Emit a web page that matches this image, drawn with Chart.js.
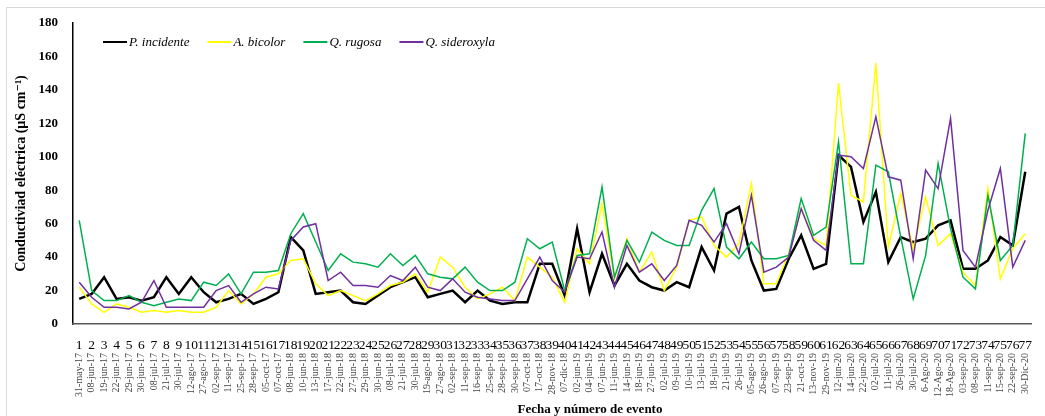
<!DOCTYPE html>
<html>

<head>
  <title>Conductividad eléctrica por evento</title>
  <script src="https://cdn.jsdelivr.net/npm/chart.js"></script>
  <style>
    html, body { margin: 0; padding: 0; background: #fff; }
  </style>
</head>

<body>
  <canvas id="myChart" width="1045" height="416"></canvas>
  <script>
    // número de evento y fecha
    var numeros = ['1', '2', '3', '4', '5', '6', '7', '8', '9', '10', '11', '12', '13', '14', '15', '16', '17', '18', '19', '20',
      '21', '22', '23', '24', '25', '26', '27', '28', '29', '30', '31', '32', '33', '34', '35', '36', '37', '38', '39', '40',
      '41', '42', '43', '44', '45', '46', '47', '48', '49', '50', '51', '52', '53', '54', '55', '56', '57', '58', '59', '60',
      '61', '62', '63', '64', '65', '66', '67', '68', '69', '70', '71', '72', '73', '74', '75', '76', '77'];
    var fechas = ['31-may-17', '08-jun-17', '19-jun-17', '22-jun-17', '29-jun-17', '30-jun-17', '08-jul-17', '21-jul-17', '30-jul-17', '12-ago-17',
      '27-ago-17', '02-sep-17', '11-sep-17', '25-sep-17', '28-sep-17', '05-oct-17', '07-oct-17', '08-jun-18', '10-jun-18', '13-jun-18',
      '17-jun-18', '22-jun-18', '27-jun-18', '29-jun-18', '30-jun-18', '08-jul-18', '21-jul-18', '30-jul-18', '19-ago-18', '27-ago-18',
      '02-sep-18', '11-sep-18', '16-sep-18', '25-sep-18', '28-sep-18', '30-sep-18', '07-oct-18', '17-oct-18', '28-nov-18', '07-dic-18',
      '02-jun-19', '04-jun-19', '07-jun-19', '11-jun-19', '14-jun-19', '18-jun-19', '27-jun-19', '02-jul-19', '09-jul-19', '10-jul-19',
      '13-jul-19', '18-jul-19', '21-jul-19', '26-jul-19', '05-ago-19', '26-ago-19', '07-sep-19', '23-sep-19', '21-oct-19', '13-nov-19',
      '29-nov-19', '12-jun-20', '14-jun-20', '22-jun-20', '02-jul-20', '11-jul-20', '26-jul-20', '30-jul-20', '6-Ago-20', '12-Ago-20',
      '18-Ago-20', '03-sep-20', '08-sep-20', '11-sep-20', '15-sep-20', '22-sep-20', '30-Dic-20'];

    // conductividad (µS cm-1) por especie
    var pIncidente = [15, 18, 28, 15, 16, 14, 16, 28, 18, 28, 19, 13, 15, 18, 12, 15, 19, 52, 44, 18,
      19, 20, 13, 12, 17, 22, 25, 28, 16, 18, 20, 13, 20, 14, 12, 13, 13, 36, 36, 17,
      57, 19, 42, 23, 36, 26, 22, 20, 25, 22, 46, 32, 66, 70, 38, 20, 21, 39, 53, 33,
      36, 101, 94, 61, 79, 37, 52, 49, 51, 59, 62, 33, 33, 38, 52, 47, 91];
    var aBicolor = [22, 12, 7, 12, 10, 7, 8, 7, 8, 7, 7, 10, 20, 12, 18, 28, 30, 38, 39, 24,
      17, 20, 17, 14, 18, 23, 25, 30, 19, 40, 34, 22, 15, 18, 22, 14, 40, 34, 28, 13,
      45, 36, 72, 27, 51, 31, 43, 20, 34, 62, 64, 47, 40, 48, 84, 24, 24, 42, 69, 51,
      47, 144, 77, 73, 156, 46, 78, 45, 76, 47, 54, 31, 23, 81, 27, 45, 54];
    var qRugosa = [62, 20, 14, 14, 17, 13, 11, 13, 15, 14, 25, 23, 30, 18, 31, 31, 32, 54, 66, 49,
      32, 42, 37, 36, 34, 42, 35, 41, 30, 28, 27, 34, 25, 20, 20, 25, 51, 45, 49, 20,
      41, 42, 82, 28, 50, 37, 55, 50, 47, 47, 68, 81, 46, 39, 49, 39, 39, 41, 75, 53,
      58, 109, 36, 36, 95, 91, 52, 15, 41, 96, 57, 28, 21, 77, 38, 47, 114];
    var qSideroxyla = [25, 16, 10, 10, 9, 13, 26, 10, 10, 10, 10, 20, 23, 13, 18, 22, 21, 50, 58, 60,
      26, 31, 23, 23, 22, 29, 26, 34, 22, 20, 27, 19, 16, 15, 14, 14, 27, 40, 26, 19,
      40, 39, 55, 22, 47, 31, 36, 26, 35, 62, 59, 49, 60, 42, 77, 31, 34, 40, 69, 50,
      44, 101, 100, 93, 124, 88, 86, 39, 92, 81, 123, 44, 34, 68, 93, 34, 50];

    var fuente = '"Liberation Serif", "DejaVu Serif", serif';

    // marco gris y fondo blanco
    var marco = {
      id: 'marco',
      beforeDraw: function (chart) {
        var ctx = chart.ctx;
        ctx.save();
        ctx.fillStyle = '#fff';
        ctx.fillRect(0, 0, chart.width, chart.height);
        ctx.strokeStyle = '#d9d9d9';
        ctx.lineWidth = 1;
        ctx.strokeRect(6.5, 7.5, 1100, 500);
        ctx.restore();
      }
    };

    // leyenda dentro del área
    var leyenda = {
      id: 'leyenda',
      afterDraw: function (chart) {
        var ctx = chart.ctx;
        var x = chart.chartArea.left + 30;
        var y = 42;
        ctx.save();
        ctx.font = 'italic 13px ' + fuente;
        ctx.textBaseline = 'middle';
        chart.data.datasets.forEach(function (ds) {
          ctx.strokeStyle = ds.borderColor;
          ctx.lineWidth = 2;
          ctx.beginPath();
          ctx.moveTo(x, y);
          ctx.lineTo(x + 24, y);
          ctx.stroke();
          x += 26;
          ctx.fillStyle = '#000';
          ctx.fillText(ds.label, x, y + 1);
          x += ctx.measureText(ds.label).width + 18;
        });
        ctx.restore();
      }
    };

    // título del eje x
    var tituloX = {
      id: 'tituloX',
      afterDraw: function (chart) {
        var ctx = chart.ctx;
        ctx.save();
        ctx.font = 'bold 13px ' + fuente;
        ctx.fillStyle = '#000';
        ctx.textAlign = 'center';
        ctx.textBaseline = 'middle';
        ctx.fillText('Fecha y número de evento', 590, 410);
        ctx.restore();
      }
    };

    var ctx = document.getElementById('myChart').getContext('2d');
    var chart = new Chart(ctx, {
      type: 'line',
      data: {
        labels: numeros,
        datasets: [{
          label: 'P. incidente',
          data: pIncidente,
          borderColor: '#000000',
          borderWidth: 2.5,
          order: 4
        }, {
          label: 'A. bicolor',
          data: aBicolor,
          borderColor: '#FFFF00',
          borderWidth: 1.5,
          order: 3
        }, {
          label: 'Q. rugosa',
          data: qRugosa,
          borderColor: '#00B050',
          borderWidth: 1.5,
          order: 2
        }, {
          label: 'Q. sideroxyla',
          data: qSideroxyla,
          borderColor: '#7030A0',
          borderWidth: 1.5,
          order: 1
        }]
      },
      options: {
        responsive: false,
        animation: false,
        elements: {
          point: { radius: 0 },
          line: { tension: 0, fill: false }
        },
        layout: {
          padding: { top: 23, right: 2, bottom: 18, left: 0 }
        },
        plugins: {
          legend: { display: false },
          tooltip: { enabled: false }
        },
        scales: {
          y: {
            min: 0,
            max: 180,
            ticks: {
              stepSize: 20,
              color: '#000',
              padding: 15,
              font: { family: fuente, size: 13, weight: 'bold' }
            },
            grid: { drawOnChartArea: false, drawTicks: false },
            border: { color: '#000', width: 1.5 },
            title: {
              display: true,
              text: 'Conductiviad eléctrica (µS cm⁻¹)',
              color: '#000',
              font: { family: fuente, size: 14, weight: 'bold' },
              padding: { top: 13, bottom: 0 }
            },
            afterFit: function (scale) { scale.width = 73; }
          },
          x: {
            offset: true,
            ticks: {
              autoSkip: false,
              maxRotation: 0,
              color: '#000',
              padding: 13,
              font: { family: fuente, size: 13.5 }
            },
            grid: { drawOnChartArea: false, drawTicks: false },
            border: { color: '#595959', width: 1.5 },
            afterFit: function (scale) { scale.height = 26; }
          },
          x2: {
            type: 'category',
            labels: fechas,
            position: 'bottom',
            offset: true,
            ticks: {
              autoSkip: false,
              minRotation: 90,
              maxRotation: 90,
              color: '#444',
              padding: 3,
              font: { family: fuente, size: 10 }
            },
            grid: { display: false, drawTicks: false },
            border: { display: false },
            afterFit: function (scale) { scale.height = 48; }
          }
        }
      },
      plugins: [marco, leyenda, tituloX]
    });
  </script>
</body>

</html>
